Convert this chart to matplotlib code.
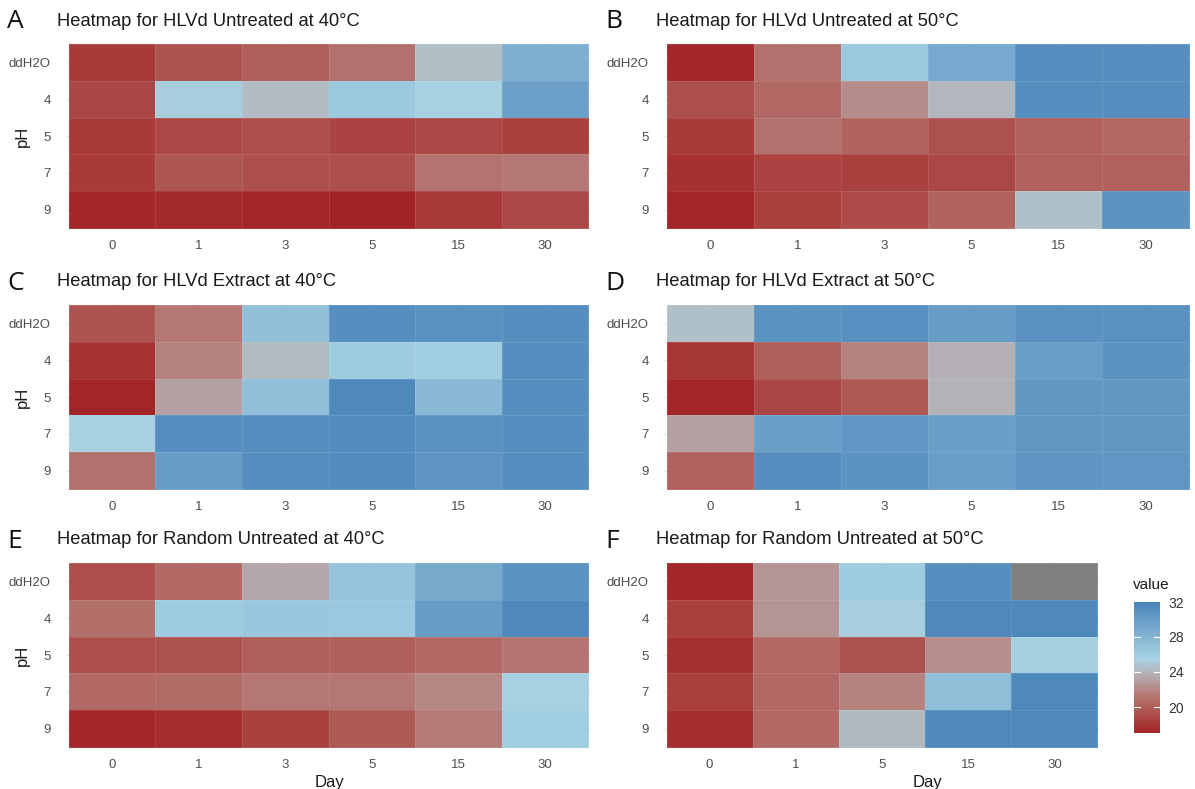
import numpy as np
import matplotlib.pyplot as plt
from matplotlib.colors import LinearSegmentedColormap

plt.rcParams['font.family'] = ['Liberation Sans', 'DejaVu Sans']

ph = ['ddH2O', '4', '5', '7', '9']
days = ['0', '1', '3', '5', '15', '30']
days_f = ['0', '1', '5', '15', '30']

# rows = pH (ddH2O, 4, 5, 7, 9), cols = day
hlvd_unt_40 = [[18.2, 19.5, 20.0, 21.0, 24.5, 28.4],
               [18.8, 25.3, 24.4, 26.2, 25.4, 29.7],
               [18.2, 18.9, 19.2, 18.7, 19.0, 18.6],
               [18.2, 19.6, 19.3, 19.3, 21.1, 21.3],
               [17.3, 17.4, 17.2, 17.1, 18.2, 18.9]]
hlvd_unt_50 = [[17.3, 21.0, 26.2, 29.0, 31.1, 31.2],
               [19.2, 20.6, 22.2, 24.1, 31.1, 31.2],
               [18.3, 21.0, 20.3, 19.4, 20.2, 20.6],
               [17.7, 18.7, 18.6, 18.9, 20.2, 20.2],
               [17.2, 18.6, 19.1, 20.3, 24.6, 30.8]]
hlvd_ext_40 = [[19.5, 21.3, 27.0, 31.1, 30.9, 31.2],
               [17.9, 21.8, 24.3, 26.0, 25.9, 31.2],
               [17.2, 23.0, 27.2, 31.5, 27.6, 31.2],
               [25.4, 31.1, 31.2, 31.3, 30.9, 31.2],
               [21.0, 30.0, 31.2, 31.3, 30.6, 31.2]]
hlvd_ext_50 = [[24.6, 30.8, 31.0, 30.0, 30.9, 30.9],
               [18.0, 20.0, 21.8, 23.8, 29.9, 30.8],
               [17.2, 18.8, 19.8, 23.9, 30.4, 30.4],
               [23.0, 29.8, 30.5, 29.8, 30.4, 30.4],
               [20.2, 31.1, 30.8, 29.9, 30.6, 30.5]]
rand_unt_40 = [[19.3, 20.6, 23.4, 26.7, 28.9, 30.8],
               [20.9, 26.1, 26.4, 26.3, 30.0, 31.5],
               [19.2, 19.4, 20.0, 20.1, 20.6, 21.2],
               [20.6, 20.7, 21.3, 21.3, 22.0, 25.4],
               [17.3, 17.6, 18.6, 19.8, 21.5, 25.9]]
rand_unt_50 = [[17.3, 22.5, 26.0, 31.1, np.nan],
               [18.5, 22.5, 25.3, 31.5, 31.5],
               [17.7, 20.6, 19.4, 22.3, 25.7],
               [18.5, 20.6, 21.8, 27.2, 31.5],
               [17.6, 20.6, 24.2, 31.5, 31.5]]

vmin, vmax = 17.1, 31.9
anchors = [(17.1, '#a22426'), (18.5, '#a9403e'), (20.0, '#b05e59'), (21.5, '#b57b77'),
           (23.0, '#b5a0a3'), (24.5, '#b1bec6'), (25.5, '#a6d2e3'), (27.5, '#8cbad6'),
           (29.3, '#72a5cb'), (31.9, '#4a85ba')]
cmap = LinearSegmentedColormap.from_list(
    'heat', [((v - vmin) / (vmax - vmin), c) for v, c in anchors])
cmap.set_bad('#7f7f7f')

W, H = 1195, 789
fig = plt.figure(figsize=(W / 100, H / 100), dpi=100)

# letter, title, data, x labels, tile box in px, pH label, Day label x
panels = [
    ('A', 'Heatmap for HLVd Untreated at 40°C', hlvd_unt_40, days, (66, 43, 591, 229), True, None),
    ('B', 'Heatmap for HLVd Untreated at 50°C', hlvd_unt_50, days, (664, 43, 1192, 229), False, None),
    ('C', 'Heatmap for HLVd Extract at 40°C', hlvd_ext_40, days, (66, 304, 591, 490), True, None),
    ('D', 'Heatmap for HLVd Extract at 50°C', hlvd_ext_50, days, (664, 304, 1192, 490), False, None),
    ('E', 'Heatmap for Random Untreated at 40°C', rand_unt_40, days, (66, 562, 591, 748), True, 330),
    ('F', 'Heatmap for Random Untreated at 50°C', rand_unt_50, days_f, (664, 562, 1100, 748), False, 928),
]

pad = 0.03
for letter, title, vals, xl, (x0, y0, x1, y1), show_ph, day_x in panels:
    ax = fig.add_axes([x0 / W, 1 - y1 / H, (x1 - x0) / W, (y1 - y0) / H])
    z = np.ma.masked_invalid(np.array(vals, dtype=float))
    nx, ny = len(xl), len(ph)
    xe = np.arange(nx + 1) - 0.5
    ye = np.arange(ny + 1) - 0.5
    ax.pcolormesh(xe, ye, z, cmap=cmap, vmin=vmin, vmax=vmax,
                  edgecolor=(1, 1, 1, 0.1), linewidth=0.4, zorder=2)
    ax.set_xlim(-0.5 - pad, nx - 0.5 + pad)
    ax.set_ylim(ny - 0.5 + pad, -0.5 - pad)
    ax.set_xticks(range(nx))
    ax.set_xticklabels(xl)
    ax.set_yticks(range(ny))
    ax.set_yticklabels(ph)
    ax.tick_params(length=0, labelsize=9.5, labelcolor='#4d4d4d', pad=8)
    ax.tick_params(axis='y', pad=11)
    ax.grid(True, color='#ebebeb', linewidth=0.8, zorder=0)
    for s in ax.spines.values():
        s.set_visible(False)
    if show_ph:
        fig.text(22 / W, 1 - (y0 + y1) / 2 / H, 'pH', fontsize=12, color='#1a1a1a',
                 rotation=90, ha='center', va='center')
    if day_x:
        fig.text(day_x / W, 1 - 782 / H, 'Day', fontsize=12, color='#1a1a1a',
                 ha='center', va='center')
    tx = 57 if x0 < 600 else 656
    lx = 7 if x0 < 600 else 605
    fig.text(tx / W, 1 - (y0 - 22) / H, title, fontsize=13.2, color='#1a1a1a', va='center')
    fig.text(lx / W, 1 - (y0 - 21) / H, letter, fontsize=19, color='#111111', va='center',
             family=['Open Sans', 'DejaVu Sans'])

cax = fig.add_axes([1134 / W, 1 - 733 / H, 26 / W, 131 / H])
sm = plt.cm.ScalarMappable(cmap=cmap, norm=plt.Normalize(vmin, vmax))
cb = fig.colorbar(sm, cax=cax)
cb.outline.set_visible(False)
cax.set_ylim(vmin, vmax)
cax.tick_params(length=0, labelsize=10, labelcolor='#333333', pad=6)
for t in [20, 24, 28]:
    cax.plot([0, 0.22], [t, t], color='white', lw=0.8, transform=cax.get_yaxis_transform())
    cax.plot([0.78, 1], [t, t], color='white', lw=0.8, transform=cax.get_yaxis_transform())
cax.set_yticks([20, 24, 28, 31.9])
cax.set_yticklabels(['20', '24', '28', '32'])
fig.text(1133 / W, 1 - 585 / H, 'value', fontsize=11, color='#1a1a1a', va='center')

plt.savefig('out.png', dpi=100)
